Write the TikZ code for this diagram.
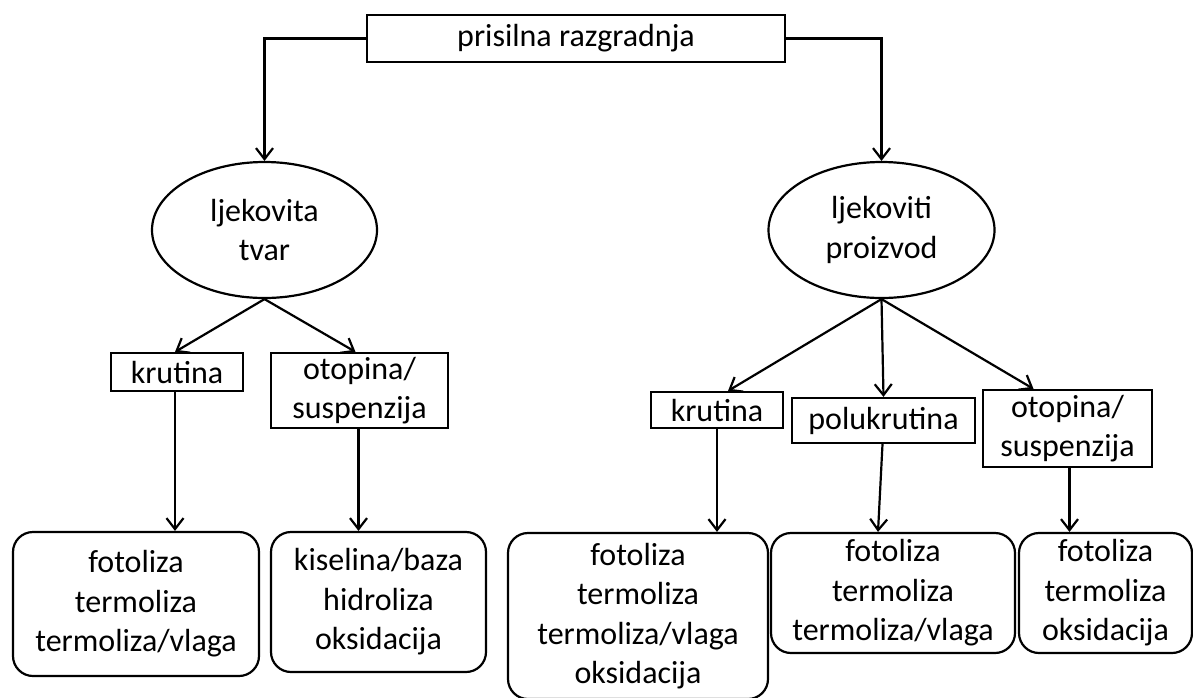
\documentclass[tikz,border=0pt]{standalone}
\usepackage{fontspec}
\setmainfont{Carlito}
\usetikzlibrary{shapes.geometric,arrows.meta}
\begin{document}
\begin{tikzpicture}[x=1pt,y=-1pt,
  every node/.style={font=\fontsize{32}{39.5}\selectfont, inner sep=0pt, align=center},
  rbox/.style={draw, line width=2.2pt, rectangle},
  ebox/.style={draw, line width=2.2pt, ellipse},
  cbox/.style={draw, line width=2.2pt, rectangle, rounded corners=20pt},
  arr/.style={line width=2.2pt, -{Straight Barb[length=11pt,width=17pt,line width=2.2pt]}}]
\useasboundingbox (0,0) rectangle (1193,697);
% top
\node[rbox, minimum width=418pt, minimum height=47pt] (top) at (576,38.5) {prisilna razgradnja};
% ellipses
\node[ebox, minimum width=225pt, minimum height=136pt] (e1) at (264.5,230) {ljekovita\\tvar};
\node[ebox, minimum width=226pt, minimum height=136pt] (e2) at (881.5,230) {ljekoviti\\proizvod};
% middle boxes
\node[rbox, minimum width=132pt, minimum height=38pt] (k1) at (177,372) {krutina};
\node[rbox, minimum width=177pt, minimum height=75pt] (o1) at (359.5,390.5) {otopina/\\suspenzija};
\node[rbox, minimum width=132pt, minimum height=36pt] (k2) at (717,410) {krutina};
\node[rbox, minimum width=183pt, minimum height=45pt] (p2) at (883.5,420.5) {polukrutina};
\node[rbox, minimum width=169pt, minimum height=77pt] (o2) at (1067.5,428.5) {otopina/\\suspenzija};
% bottom boxes
\node[cbox, minimum width=246pt, minimum height=144pt] (b1) at (136,604) {fotoliza\\termoliza\\termoliza/vlaga};
\node[cbox, minimum width=215pt, minimum height=140pt] (b2) at (378.5,602) {kiselina/baza\\hidroliza\\oksidacija};
\node[cbox, minimum width=260pt, minimum height=166pt] (b3) at (638,616) {fotoliza\\termoliza\\termoliza/vlaga\\oksidacija};
\node[cbox, minimum width=244pt, minimum height=120pt] (b4) at (893,593) {fotoliza\\termoliza\\termoliza/vlaga};
\node[cbox, minimum width=173pt, minimum height=120pt] (b5) at (1105.5,593) {fotoliza\\termoliza\\oksidacija};
% connectors
\draw[arr] (top.west) -| (e1.north);
\draw[arr] (top.east) -| (e2.north);
\draw[arr] (e1.south) -- ([xshift=-2pt]k1.north);
\draw[arr] (e1.south) -- ([xshift=-4pt]o1.north);
\draw[arr] (e2.south) -- ([xshift=11pt]k2.north);
\draw[arr] (e2.south) -- (p2.north);
\draw[arr] (e2.south) -- ([xshift=-34pt]o2.north);
\draw[arr] ([xshift=-2pt]k1.south) -- ([xshift=-2pt]k1.south |- b1.north);
\draw[arr] ([xshift=-1pt]o1.south) -- ([xshift=-1pt]o1.south |- b2.north);
\draw[arr] (k2.south) -- (k2.south |- b3.north);
\draw[arr] ([xshift=-1pt]p2.south) -- ([xshift=-15pt]b4.north);
\draw[arr] ([xshift=2pt]o2.south) -- ([xshift=2pt]o2.south |- b5.north);
\end{tikzpicture}
\end{document}
